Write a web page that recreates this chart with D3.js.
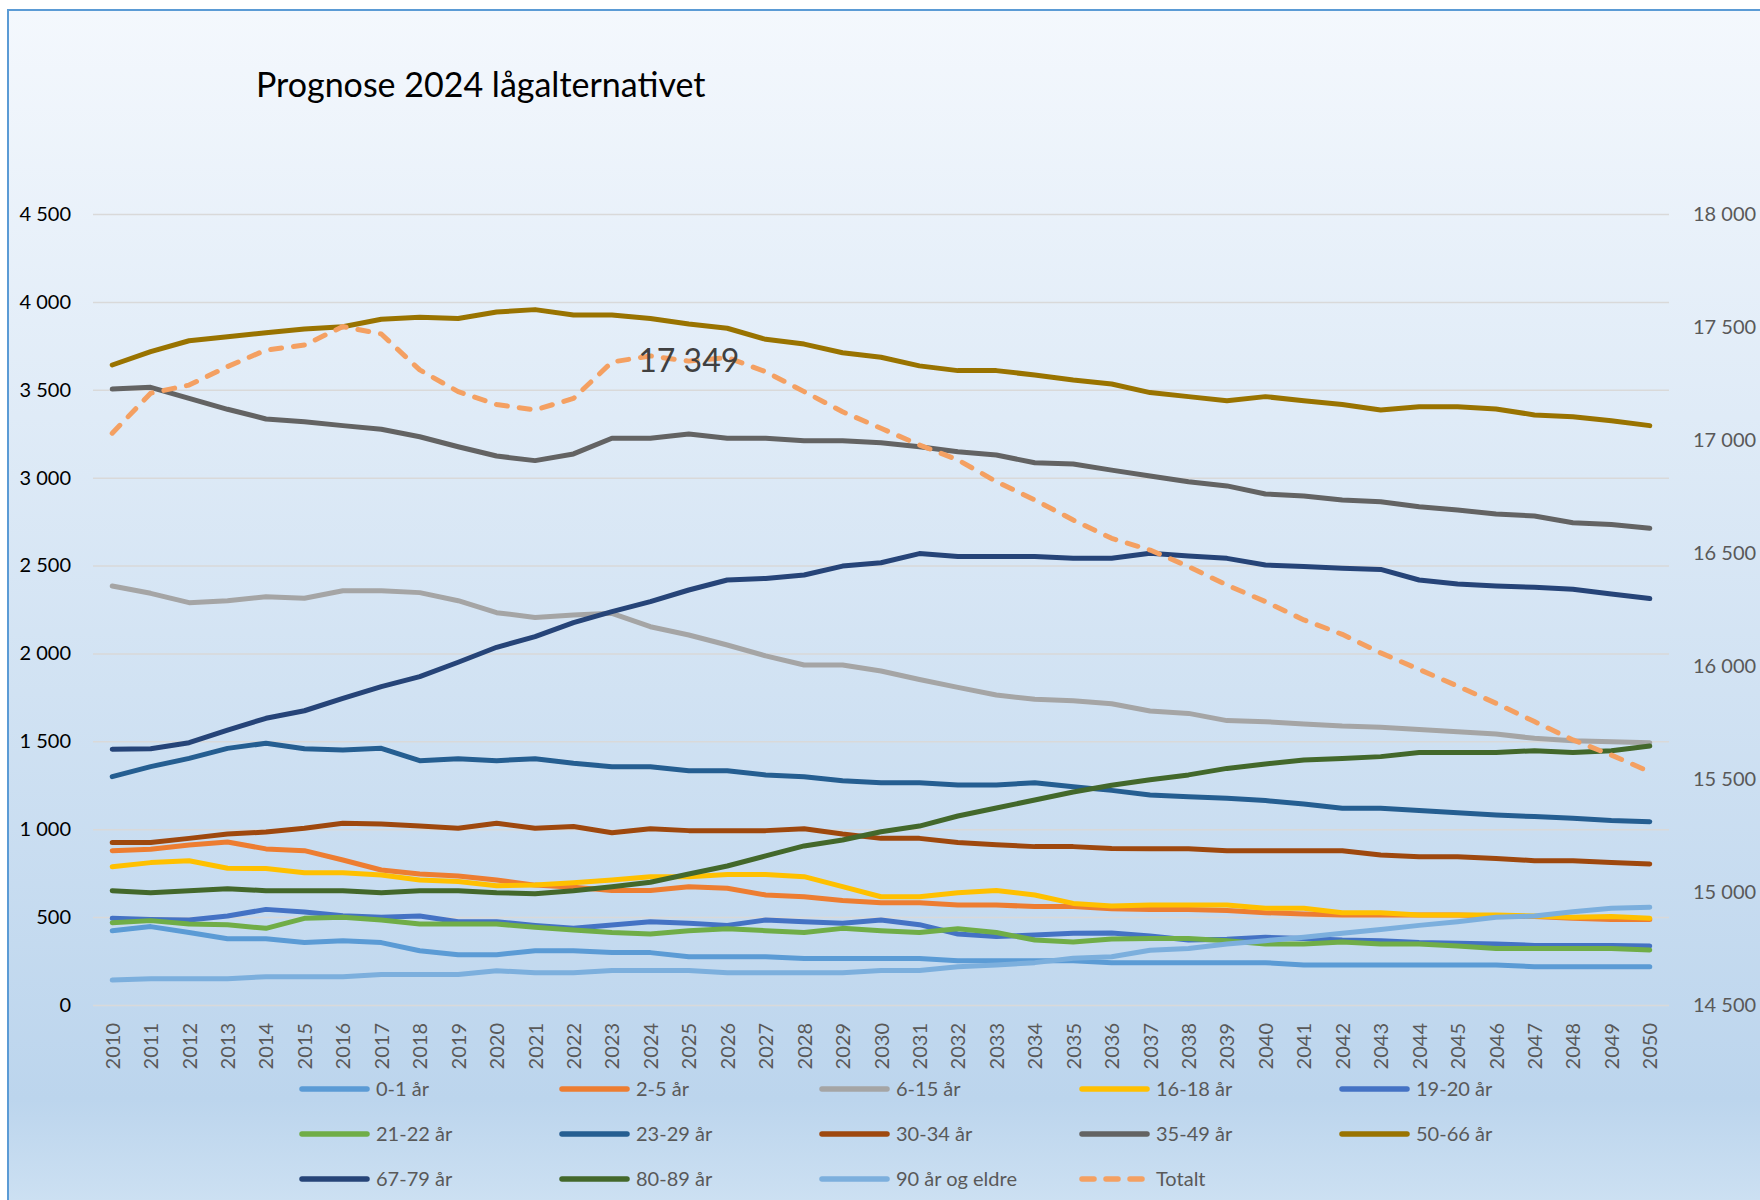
<!DOCTYPE html>
<meta charset="utf-8">
<style>
body { margin: 0; background: #fff; }
text { font-family: Lato, "Open Sans", sans-serif; }
.axis text { font-size: 20px; }
.axis .domain { display: none; }
.grid line { stroke: #d9d9d9; stroke-width: 1.5px; }
.grid .domain { display: none; }
</style>
<body>
<script src="https://cdn.jsdelivr.net/npm/d3@7"></script>
<div id="content"></div>
<script>
var width = 1760,
    height = 1200;

// categories
var years = d3.range(2010, 2051);

var seriesNames = ["0-1 år", "2-5 år", "6-15 år", "16-18 år", "19-20 år",
                   "21-22 år", "23-29 år", "30-34 år", "35-49 år", "50-66 år",
                   "67-79 år", "80-89 år", "90 år og eldre", "Totalt"];

var colors = ["#5b9bd5", "#ed7d31", "#a5a5a5", "#ffc000", "#4472c4",
              "#70ad47", "#255e91", "#9e480e", "#636363", "#997300",
              "#264478", "#43682b", "#7cafdd", "#f4a062"];

// values
var age0_1 = [423, 446, 412, 377, 377, 355, 366, 355, 309, 286, 286, 309, 309, 298, 298, 275, 275, 275, 264, 264, 264, 264, 252, 252, 252, 252, 241, 241, 241, 241, 241, 228, 228, 228, 228, 228, 228, 218, 218, 218, 218];
var age2_5 = [878, 886, 910, 927, 888, 878, 825, 768, 745, 734, 711, 682, 670, 651, 651, 673, 664, 626, 616, 594, 582, 582, 569, 569, 560, 560, 547, 544, 544, 537, 525, 518, 512, 512, 512, 512, 506, 503, 493, 487, 487];
var age6_15 = [2384, 2342, 2289, 2300, 2323, 2314, 2357, 2357, 2346, 2300, 2232, 2205, 2219, 2228, 2152, 2105, 2048, 1986, 1934, 1934, 1900, 1852, 1807, 1764, 1739, 1731, 1714, 1673, 1659, 1618, 1612, 1599, 1587, 1580, 1568, 1555, 1542, 1517, 1504, 1498, 1492];
var age16_18 = [787, 810, 821, 778, 776, 753, 753, 740, 711, 702, 679, 683, 696, 711, 730, 730, 743, 743, 730, 673, 616, 616, 639, 651, 626, 578, 563, 569, 569, 569, 550, 550, 525, 525, 512, 512, 512, 506, 499, 503, 493];
var age19_20 = [493, 487, 484, 506, 544, 529, 508, 499, 506, 474, 474, 453, 436, 455, 474, 465, 453, 484, 474, 465, 484, 457, 404, 389, 398, 408, 410, 393, 370, 374, 385, 379, 370, 366, 355, 351, 347, 339, 339, 339, 336];
var age21_22 = [468, 480, 461, 457, 436, 493, 499, 484, 461, 461, 461, 442, 427, 412, 404, 423, 434, 423, 412, 436, 423, 412, 434, 412, 370, 359, 376, 379, 379, 366, 347, 347, 358, 347, 347, 336, 322, 322, 322, 322, 313];
var age23_29 = [1299, 1356, 1403, 1460, 1489, 1458, 1451, 1460, 1390, 1401, 1390, 1401, 1375, 1356, 1356, 1333, 1333, 1309, 1299, 1276, 1265, 1265, 1252, 1252, 1265, 1242, 1221, 1195, 1185, 1176, 1163, 1144, 1119, 1119, 1106, 1094, 1081, 1072, 1062, 1049, 1043];
var age30_34 = [924, 924, 948, 973, 984, 1005, 1034, 1030, 1018, 1005, 1034, 1005, 1015, 980, 1003, 992, 992, 992, 1003, 973, 948, 948, 924, 912, 901, 901, 890, 889, 889, 878, 878, 878, 878, 853, 844, 844, 833, 821, 821, 810, 802];
var age35_49 = [3504, 3514, 3451, 3389, 3334, 3318, 3296, 3275, 3233, 3176, 3123, 3097, 3135, 3224, 3224, 3248, 3224, 3224, 3210, 3210, 3199, 3176, 3148, 3129, 3085, 3078, 3043, 3009, 2977, 2953, 2907, 2896, 2873, 2863, 2835, 2816, 2793, 2782, 2744, 2734, 2712];
var age50_66 = [3641, 3717, 3779, 3802, 3825, 3846, 3859, 3901, 3912, 3905, 3942, 3956, 3925, 3925, 3906, 3874, 3850, 3787, 3760, 3711, 3685, 3636, 3609, 3609, 3584, 3556, 3533, 3484, 3461, 3438, 3461, 3438, 3416, 3385, 3404, 3404, 3391, 3357, 3347, 3324, 3296];
var age67_79 = [1455, 1458, 1492, 1564, 1631, 1674, 1745, 1811, 1868, 1950, 2035, 2096, 2175, 2238, 2295, 2361, 2418, 2427, 2446, 2497, 2516, 2568, 2551, 2551, 2551, 2541, 2541, 2570, 2554, 2541, 2503, 2494, 2484, 2478, 2418, 2395, 2384, 2376, 2365, 2338, 2312];
var age80_89 = [650, 639, 650, 662, 650, 650, 650, 639, 650, 650, 639, 633, 650, 673, 698, 745, 791, 848, 905, 939, 986, 1018, 1075, 1121, 1166, 1212, 1250, 1282, 1309, 1346, 1371, 1394, 1403, 1413, 1436, 1436, 1436, 1447, 1436, 1447, 1473];
var age90plus = [142, 150, 150, 150, 161, 161, 161, 173, 173, 173, 195, 184, 184, 196, 196, 196, 184, 184, 184, 184, 196, 196, 218, 228, 241, 266, 275, 311, 322, 347, 366, 385, 408, 430, 453, 474, 499, 506, 531, 550, 556];
var totalt = [17030, 17207, 17243, 17325, 17398, 17420, 17502, 17469, 17310, 17214, 17157, 17133, 17184, 17345, 17372, 17349, 17365, 17302, 17214, 17125, 17052, 16978, 16912, 16816, 16735, 16646, 16565, 16513, 16440, 16358, 16285, 16204, 16140, 16058, 15985, 15911, 15835, 15754, 15673, 15606, 15532];

var leftTicks = [0, 500, 1000, 1500, 2000, 2500, 3000, 3500, 4000, 4500];
var rightTicks = [14500, 15000, 15500, 16000, 16500, 17000, 17500, 18000];
var labelYear = 2025;

var seriesValues = [age0_1, age2_5, age6_15, age16_18, age19_20, age21_22, age23_29,
                    age30_34, age35_49, age50_66, age67_79, age80_89, age90plus, totalt];

var nb = d3.formatLocale({decimal: ",", thousands: " ", grouping: [3], currency: ["", " kr"]});
var fmt = nb.format(",d");

var svg = d3.select("#content").append("svg")
    .attr("width", width)
    .attr("height", height);

// background
var grad = svg.append("defs").append("linearGradient")
    .attr("id", "bg").attr("x1", 0).attr("y1", 0).attr("x2", 0).attr("y2", 1);
grad.append("stop").attr("offset", "0%").attr("stop-color", "#f4f8fd");
grad.append("stop").attr("offset", "90%").attr("stop-color", "#bcd5ed");
grad.append("stop").attr("offset", "100%").attr("stop-color", "#cfe2f3");

svg.append("rect")
    .attr("x", 8).attr("y", 10)
    .attr("width", width + 10).attr("height", height + 10)
    .attr("fill", "url(#bg)")
    .attr("stroke", "#5b9bd5")
    .attr("stroke-width", 2);

svg.append("text")
    .attr("x", 256).attr("y", 97)
    .style("font-size", "34px")
    .style("fill", "#000")
    .text("Prognose 2024 lågalternativet");

var plotLeft = 93, plotRight = 1669, plotTop = 214, plotBottom = 1005;

var x = d3.scalePoint().domain(years).range([plotLeft, plotRight]).padding(0.5);
var yLeft = d3.scaleLinear().domain([0, 4500]).range([plotBottom, plotTop]);
var yRight = d3.scaleLinear().domain([14500, 18000]).range([plotBottom, plotTop]);

svg.append("g")
    .attr("class", "grid")
    .attr("transform", "translate(" + plotLeft + ",0)")
    .call(d3.axisLeft(yLeft).tickValues(leftTicks).tickSize(-(plotRight - plotLeft)).tickFormat(""));

var gl = svg.append("g")
    .attr("class", "axis")
    .attr("transform", "translate(" + (plotLeft - 22) + ",0)")
    .call(d3.axisLeft(yLeft).tickValues(leftTicks).tickSize(0).tickPadding(0).tickFormat(fmt));
gl.selectAll("text").style("fill", "#000");

var gr = svg.append("g")
    .attr("class", "axis")
    .attr("transform", "translate(" + (plotRight + 24) + ",0)")
    .call(d3.axisRight(yRight).tickValues(rightTicks).tickSize(0).tickPadding(0).tickFormat(fmt));
gr.selectAll("text").style("fill", "#595959");

var gx = svg.append("g")
    .attr("class", "axis")
    .attr("transform", "translate(0," + (plotBottom + 18) + ")")
    .call(d3.axisBottom(x).tickSize(0).tickPadding(0));
gx.selectAll("text")
    .style("fill", "#595959")
    .style("text-anchor", "end")
    .attr("dy", "0.35em")
    .attr("transform", "rotate(-90)");

// lines
seriesValues.forEach(function(vals, k) {
  var isTotal = k === seriesValues.length - 1;
  var yScale = isTotal ? yRight : yLeft;
  var line = d3.line()
      .x(function(d, i) { return x(years[i]); })
      .y(function(d) { return yScale(d); });
  svg.append("path")
      .datum(vals)
      .attr("d", line)
      .attr("fill", "none")
      .attr("stroke", colors[k])
      .attr("stroke-width", 5)
      .attr("stroke-linejoin", "round")
      .attr("stroke-linecap", "round")
      .attr("stroke-dasharray", isTotal ? "11,12" : null);
});

// data label
var li = years.indexOf(labelYear);
svg.append("text")
    .attr("x", x(labelYear))
    .attr("y", yRight(totalt[li]))
    .attr("dy", "0.35em")
    .attr("text-anchor", "middle")
    .style("font-size", "32px")
    .style("fill", "#404040")
    .text(fmt(totalt[li]));

// legend
var legend = svg.append("g").selectAll("g")
    .data(seriesNames)
    .enter().append("g")
    .attr("transform", function(d, i) {
      return "translate(" + (299 + (i % 5) * 260) + "," + (1089 + Math.floor(i / 5) * 45) + ")";
    });
legend.append("line")
    .attr("x1", 3).attr("x2", 68)
    .attr("stroke", function(d, i) { return colors[i]; })
    .attr("stroke-width", 5.5)
    .attr("stroke-linecap", "round")
    .attr("stroke-dasharray", function(d, i) { return i === seriesNames.length - 1 ? "12,12" : null; });
legend.append("text")
    .attr("x", 77)
    .attr("dy", "0.35em")
    .style("font-size", "20px")
    .style("fill", "#595959")
    .text(function(d) { return d; });
</script>
